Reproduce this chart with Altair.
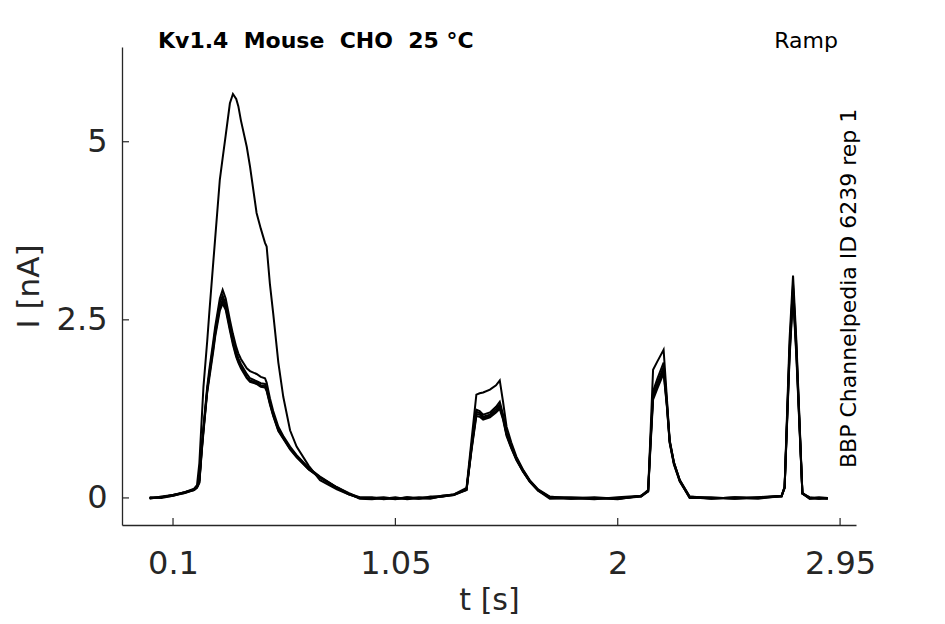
import altair as alt
import pandas as pd

# time grid (s)
T = [0.00, 0.05, 0.10, 0.15, 0.19, 0.2025, 0.2125, 0.2225, 0.23, 0.246, 0.255, 0.272, 0.28, 0.30, 0.312,
     0.325, 0.343, 0.356, 0.37, 0.379, 0.39, 0.415, 0.429, 0.457, 0.475, 0.493, 0.50, 0.514, 0.528, 0.55,
     0.571, 0.60, 0.628, 0.68, 0.728, 0.80, 0.85, 0.898,
     0.95, 1.0, 1.05, 1.1, 1.15, 1.2, 1.25, 1.3,
     1.354, 1.375, 1.396, 1.41, 1.425, 1.454, 1.48, 1.496, 1.51, 1.525, 1.545, 1.567, 1.595, 1.624, 1.66, 1.71,
     1.8, 1.9, 2.0, 2.1,
     2.13, 2.14, 2.151, 2.17, 2.196, 2.21, 2.222, 2.24, 2.265, 2.307,
     2.4, 2.5, 2.6, 2.7,
     2.713, 2.734, 2.749, 2.763, 2.789, 2.82, 2.86, 2.898]

# currents (nA) per sweep
BIG = [0.0, 0.01, 0.04, 0.08, 0.13, 0.18, 0.49, 1.1, 1.56, 2.2, 2.6, 3.31, 3.64, 4.47, 4.77,
       5.09, 5.54, 5.67, 5.6, 5.5, 5.3, 4.93, 4.65, 4.0, 3.78, 3.58, 3.53, 3.0, 2.59, 1.9,
       1.42, 0.95, 0.72, 0.45, 0.25, 0.12, 0.05, 0.0,
       -0.01, 0.0, -0.02, 0.01, -0.01, 0.0, 0.02, 0.05,
       0.14, 0.8, 1.45, 1.47, 1.48, 1.52, 1.58, 1.65, 1.35, 1.0, 0.78, 0.58, 0.4, 0.25, 0.12, 0.02,
       -0.01, 0.0, -0.01, 0.03,
       0.11, 0.9, 1.8, 1.92, 2.08, 1.4, 0.81, 0.5, 0.25, 0.02,
       0.0, -0.01, 0.01, 0.03,
       0.16, 2.22, 3.12, 2.22, 0.07, -0.01, 0.0, -0.01]

S1 = [0.0, 0.01, 0.04, 0.08, 0.12, 0.16, 0.25, 0.72, 1.0, 1.56, 1.8, 2.2, 2.4, 2.8, 2.92,
      2.8, 2.5, 2.3, 2.12, 2.03, 1.95, 1.82, 1.78, 1.74, 1.7, 1.68, 1.62, 1.4, 1.22, 1.0,
      0.87, 0.72, 0.6, 0.42, 0.3, 0.15, 0.07, 0.0,
      0.0, -0.01, 0.01, -0.02, 0.0, 0.01, 0.03, 0.05,
      0.12, 0.72, 1.24, 1.22, 1.17, 1.2, 1.28, 1.35, 1.17, 0.92, 0.74, 0.56, 0.39, 0.24, 0.11, 0.01,
      0.0, -0.02, 0.01, 0.03,
      0.1, 0.8, 1.5, 1.68, 1.9, 1.35, 0.8, 0.5, 0.25, 0.02,
      -0.01, 0.01, 0.0, 0.03,
      0.15, 2.1, 3.0, 2.15, 0.07, 0.0, -0.01, 0.0]

S2 = [0.01, 0.0, 0.03, 0.07, 0.11, 0.15, 0.22, 0.66, 0.95, 1.5, 1.74, 2.14, 2.34, 2.74, 2.84,
      2.72, 2.42, 2.22, 2.05, 1.96, 1.88, 1.74, 1.68, 1.64, 1.61, 1.6, 1.55, 1.35, 1.18, 0.97,
      0.85, 0.7, 0.59, 0.41, 0.29, 0.15, 0.06, 0.01,
      0.01, -0.02, 0.0, 0.0, -0.01, 0.02, 0.02, 0.04,
      0.12, 0.7, 1.21, 1.19, 1.14, 1.17, 1.25, 1.31, 1.14, 0.9, 0.72, 0.55, 0.38, 0.24, 0.11, 0.0,
      -0.01, 0.01, -0.01, 0.02,
      0.1, 0.78, 1.45, 1.62, 1.84, 1.32, 0.79, 0.49, 0.24, 0.01,
      0.01, -0.01, 0.01, 0.02,
      0.15, 2.05, 2.95, 2.1, 0.06, -0.01, 0.0, -0.01]

S3 = [-0.01, 0.02, 0.04, 0.07, 0.12, 0.15, 0.24, 0.68, 0.96, 1.52, 1.72, 2.1, 2.3, 2.68, 2.78,
      2.68, 2.38, 2.18, 2.0, 1.92, 1.84, 1.7, 1.65, 1.62, 1.58, 1.57, 1.52, 1.33, 1.16, 0.95,
      0.84, 0.69, 0.58, 0.4, 0.29, 0.14, 0.06, -0.01,
      -0.02, 0.0, -0.01, 0.01, 0.0, -0.01, 0.03, 0.05,
      0.11, 0.68, 1.18, 1.17, 1.12, 1.15, 1.22, 1.28, 1.12, 0.89, 0.71, 0.54, 0.37, 0.23, 0.1, 0.01,
      0.01, 0.0, -0.02, 0.03,
      0.09, 0.75, 1.42, 1.58, 1.79, 1.3, 0.78, 0.48, 0.24, 0.0,
      0.0, 0.0, -0.01, 0.03,
      0.14, 2.0, 2.9, 2.05, 0.06, 0.0, 0.01, 0.0]

S4 = [0.0, 0.01, 0.03, 0.08, 0.11, 0.14, 0.21, 0.64, 0.92, 1.48, 1.68, 2.06, 2.26, 2.63, 2.73,
      2.64, 2.35, 2.15, 1.98, 1.9, 1.82, 1.68, 1.63, 1.6, 1.56, 1.55, 1.5, 1.31, 1.15, 0.94,
      0.83, 0.68, 0.57, 0.4, 0.28, 0.14, 0.05, 0.0,
      0.0, 0.01, -0.01, -0.01, 0.01, 0.0, 0.02, 0.04,
      0.11, 0.66, 1.15, 1.14, 1.1, 1.13, 1.2, 1.25, 1.1, 0.87, 0.7, 0.53, 0.37, 0.23, 0.1, -0.01,
      0.0, -0.01, 0.0, 0.02,
      0.09, 0.72, 1.38, 1.54, 1.75, 1.28, 0.77, 0.47, 0.23, 0.01,
      -0.01, 0.01, 0.0, 0.02,
      0.14, 1.95, 2.85, 2.0, 0.06, 0.01, -0.01, 0.0]

X_TICKS = [0.1, 1.05, 2, 2.95]
Y_TICKS = [0, 2.5, 5]
X_DOMAIN = [-0.118, 3.018]
Y_DOMAIN = [-0.38, 6.33]

TITLE = "Kv1.4\u00a0\u00a0Mouse\u00a0\u00a0CHO\u00a0\u00a025\u00a0°C"
PROTOCOL = "Ramp"
SOURCE = "BBP Channelpedia ID 6239 rep 1"

traces = {"sweep1": BIG, "sweep2": S1, "sweep3": S2, "sweep4": S3, "sweep5": S4}
rows = []
for name, vals in traces.items():
    for t, i in zip(T, vals):
        rows.append({"t": t, "I": i, "trace": name})
df = pd.DataFrame(rows)

W, H = 734, 478
FONT = "DejaVu Sans"
AX = "#262626"

xscale = alt.Scale(domain=X_DOMAIN, nice=False, zero=False)
yscale = alt.Scale(domain=Y_DOMAIN, nice=False, zero=False)

xaxis = alt.Axis(
    values=X_TICKS, format=".3~g", title="t [s]", grid=False, ticks=False, tickSize=0,
    domainColor=AX, domainWidth=1.3, labelColor=AX, labelFont=FONT, labelFontSize=32,
    labelBaseline="alphabetic", labelPadding=48, labelFlush=False,
    titleFont=FONT, titleFontSize=30, titleFontWeight="normal", titleColor=AX,
    titleX=367, titleY=84, titleBaseline="alphabetic", titleAlign="center")
yaxis = alt.Axis(
    values=Y_TICKS, format=".2~g", title="I [nA]", grid=False, ticks=False, tickSize=0,
    domainColor=AX, domainWidth=1.3, labelColor=AX, labelFont=FONT, labelFontSize=32,
    labelPadding=15, labelFlush=False,
    titleFont=FONT, titleFontSize=31, titleFontWeight="normal", titleColor=AX,
    titleX=-84, titleY=239, titleAngle=270, titleBaseline="alphabetic", titleAlign="center")

lines = alt.Chart(df).mark_line(color="black", strokeWidth=2.0).encode(
    x=alt.X("t:Q", scale=xscale, axis=xaxis, title="t [s]"),
    y=alt.Y("I:Q", scale=yscale, axis=yaxis, title="I [nA]"),
    detail="trace:N",
)

xt = alt.Chart(pd.DataFrame({"t": X_TICKS})).mark_rule(color=AX, strokeWidth=1.2).encode(
    x=alt.X("t:Q", scale=xscale, axis=xaxis, title="t [s]"), y=alt.value(H), y2=alt.value(H - 7))
yt = alt.Chart(pd.DataFrame({"I": Y_TICKS})).mark_rule(color=AX, strokeWidth=1.2).encode(
    y=alt.Y("I:Q", scale=yscale, axis=yaxis, title="I [nA]"), x=alt.value(0), x2=alt.value(7))

title = alt.Chart(pd.DataFrame({"s": [TITLE]})).mark_text(
    font=FONT, fontSize=22, fontWeight="bold", color="black", align="left", baseline="alphabetic"
).encode(text="s:N", x=alt.value(36), y=alt.value(1))

proto = alt.Chart(pd.DataFrame({"s": [PROTOCOL]})).mark_text(
    font=FONT, fontSize=22, color="black", align="right", baseline="alphabetic"
).encode(text="s:N", x=alt.value(716), y=alt.value(1))

source = alt.Chart(pd.DataFrame({"s": [SOURCE]})).mark_text(
    font=FONT, fontSize=22, color="black", align="left", baseline="alphabetic", angle=270
).encode(text="s:N", x=alt.value(734), y=alt.value(421))

chart = alt.layer(lines, xt, yt, title, proto, source).properties(
    width=W, height=H,
    autosize=alt.AutoSizeParams(type="none"),
    padding={"left": 114, "top": 39, "right": 80, "bottom": 91},
).configure_view(stroke=None)

chart.save("out.html", embed_options={"renderer": "svg", "actions": False})
